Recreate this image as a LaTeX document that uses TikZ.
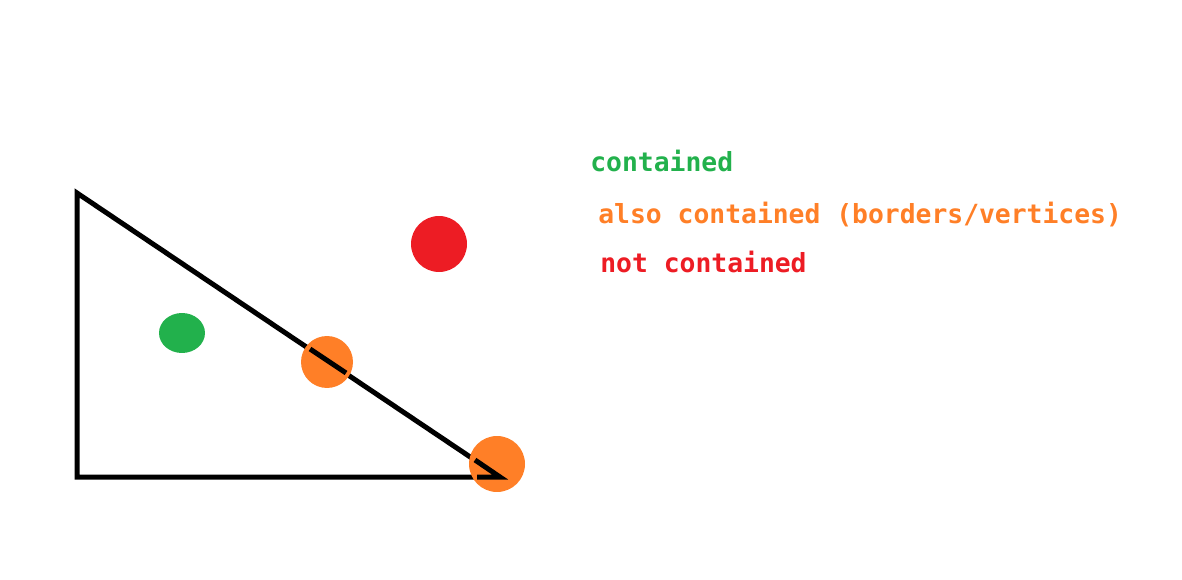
\documentclass[tikz,border=0pt]{standalone}
\usepackage{fontspec}
\setmonofont{DejaVu Sans Mono}
\usetikzlibrary{shapes.geometric}
\definecolor{paintgreen}{HTML}{22B14C}
\definecolor{paintorange}{HTML}{FF7F27}
\definecolor{paintred}{HTML}{ED1C24}
\begin{document}
\begin{tikzpicture}[x=0.02cm, y=-0.02cm,
    border/.style ={line width=0.1cm, line join=miter},
    point/.style ={circle, inner sep=0pt, minimum size=1.12cm},
    legend/.style ={anchor=base west, inner sep=0pt,
      font=\ttfamily\bfseries\fontsize{15}{18}\selectfont}]
   \useasboundingbox (0,0) rectangle (1182,580);

   \coordinate (A) at (77,193);
   \coordinate (B) at (77,477);
   \coordinate (C) at (500,477);

   \draw[border] (A) -- (B) -- (C) -- cycle;

   \node[ellipse, fill=paintgreen, inner sep=0pt, minimum width=0.92cm, minimum height=0.8cm] (inside) at (182,333) {};
   \node[point, fill=paintred] (outside) at (439,244) {};
   \node[point, fill=paintorange, minimum size=1.04cm] (onedge) at (327,362) {};
   \node[point, fill=paintorange] (onvertex) at (497,464) {};

   % the border shows through the orange points
   \coordinate (e1) at (310,349);
   \coordinate (e2) at (346,373);
   \coordinate (v1) at (475,460);
   \coordinate (v2) at (477,477);
   \draw[border] (e1) -- (e2);
   \draw[border] (v1) -- (C) -- (v2);

   \node[legend, text=paintgreen] (keyin) at (590,172) {contained};
   \node[legend, text=paintorange] (keyon) at (598,224) {also contained (borders/vertices)};
   \node[legend, text=paintred] (keyout) at (600,273) {not contained};
 \end{tikzpicture}
\end{document}
